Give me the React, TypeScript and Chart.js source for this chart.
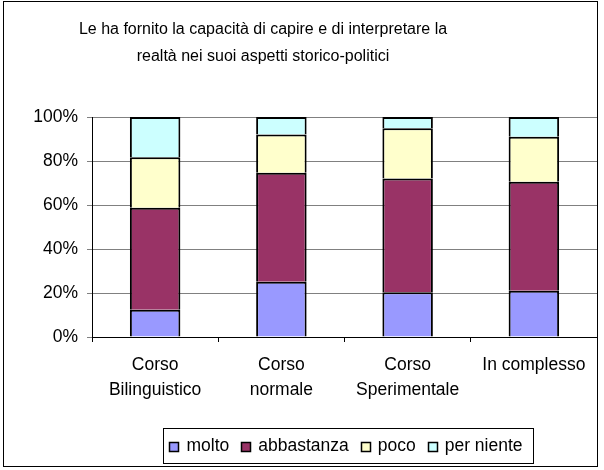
import React, { useEffect, useRef } from 'react';
import { Chart, registerables } from 'chart.js';
Chart.register(...registerables);

const categories: (string | string[])[] = [['Corso', 'Bilinguistico'], ['Corso', 'normale'], ['Corso', 'Sperimentale'], 'In complesso'];
const seriesNames = ['molto', 'abbastanza', 'poco', 'per niente'];
const molto = [12.4, 25.1, 20.3, 21.0];
const abbastanza = [46.4, 49.6, 51.8, 49.6];
const poco = [22.9, 17.3, 22.8, 20.4];
const perNiente = [18.3, 8.0, 5.1, 9.0];
const yTickValues = [0, 20, 40, 60, 80, 100];
const titleLines = ['Le ha fornito la capacità di capire e di interpretare la', 'realtà nei suoi aspetti storico-politici'];
const seriesColors = ['#9999FF', '#993366', '#FFFFCC', '#CCFFFF'];

const FONT = '"Liberation Sans", Arial, sans-serif';

const framePlugin = {
  id: 'frame',
  beforeDraw(chart: any) {
    const ctx = chart.ctx;
    ctx.save();
    ctx.fillStyle = '#ffffff';
    ctx.fillRect(0, 0, chart.width, chart.height);
    ctx.restore();
  },
  afterDraw(chart: any) {
    const ctx = chart.ctx;
    ctx.save();
    // outer border
    ctx.strokeStyle = '#000000';
    ctx.lineWidth = 1;
    ctx.strokeRect(3.5, 1.5, 594, 465);
    // title
    ctx.fillStyle = '#000000';
    ctx.font = `16px ${FONT}`;
    ctx.textAlign = 'center';
    ctx.textBaseline = 'middle';
    ctx.fillText(titleLines[0], 263, 30);
    ctx.fillText(titleLines[1], 263, 57);
    // legend
    ctx.font = `17.5px ${FONT}`;
    const marker = 9;
    const gapText = 8;
    const gapItem = 12;
    const widths = chart.data.datasets.map((d: any) => ctx.measureText(d.label).width);
    let total = 0;
    widths.forEach((w: number, i: number) => {
      total += marker + gapText + w + (i < widths.length - 1 ? gapItem : 0);
    });
    const cx = 346;
    const cy = 446;
    const boxL = Math.round(cx - total / 2 - 6) + 0.5;
    const boxR = Math.round(cx + total / 2 + 10) + 0.5;
    ctx.lineWidth = 1;
    ctx.strokeStyle = '#000000';
    ctx.strokeRect(boxL, 428.5, boxR - boxL, 35);
    let x = cx - total / 2;
    chart.data.datasets.forEach((d: any, i: number) => {
      const mx = Math.round(x) + 0.5;
      const my = Math.round(cy - marker / 2) + 0.5;
      ctx.fillStyle = d.backgroundColor;
      ctx.fillRect(mx, my, marker, marker);
      ctx.lineWidth = 1.5;
      ctx.strokeStyle = '#000000';
      ctx.strokeRect(mx, my, marker, marker);
      ctx.fillStyle = '#000000';
      ctx.textAlign = 'left';
      ctx.fillText(d.label, x + marker + gapText, cy);
      x += marker + gapText + widths[i] + gapItem;
    });
    ctx.restore();
  },
};

export default function App() {
  const ref = useRef<HTMLCanvasElement>(null);
  useEffect(() => {
    document.body.style.margin = '0';
    const seriesValues = [molto, abbastanza, poco, perNiente];
    const chart = new Chart(ref.current as HTMLCanvasElement, {
      type: 'bar',
      data: {
        labels: categories as any,
        datasets: seriesNames.map((name, i) => ({
          label: name,
          data: seriesValues[i],
          backgroundColor: seriesColors[i],
          borderColor: '#000000',
          borderWidth: 2,
          categoryPercentage: 1,
          barPercentage: 0.4,
        })),
      },
      options: {
        animation: false,
        responsive: false,
        devicePixelRatio: 1,
        layout: { padding: { left: 3, top: 117, right: 7, bottom: 0 } },
        plugins: {
          legend: { display: false },
          title: { display: false },
          tooltip: { enabled: false },
        },
        scales: {
          x: {
            stacked: true,
            afterFit: (s: any) => { s.height = 133; },
            grid: { drawOnChartArea: false, drawTicks: true, tickLength: 5, offset: true, color: '#000000' },
            border: { color: '#000000', width: 1 },
            ticks: {
              color: '#000000',
              padding: 10,
              maxRotation: 0,
              autoSkip: false,
              font: { family: FONT, size: 17.5, lineHeight: 1.45 },
            },
          },
          y: {
            stacked: true,
            min: 0,
            max: 100,
            afterFit: (s: any) => { s.width = 89; },
            afterBuildTicks: (s: any) => { s.ticks = yTickValues.map((v) => ({ value: v })); },
            grid: { color: '#808080', drawTicks: true, tickLength: 5, lineWidth: 1 },
            border: { color: '#000000', width: 1 },
            ticks: {
              color: '#000000',
              padding: 9,
              callback: (v: any) => `${v}%`,
              font: { family: FONT, size: 17.5 },
            },
          },
        },
      },
      plugins: [framePlugin],
    });
    return () => chart.destroy();
  }, []);
  return (
    <div style={{ position: 'absolute', left: 0, top: 0, width: 604, height: 470 }}>
      <canvas ref={ref} width={604} height={470} style={{ width: 604, height: 470, display: 'block' }} />
    </div>
  );
}
